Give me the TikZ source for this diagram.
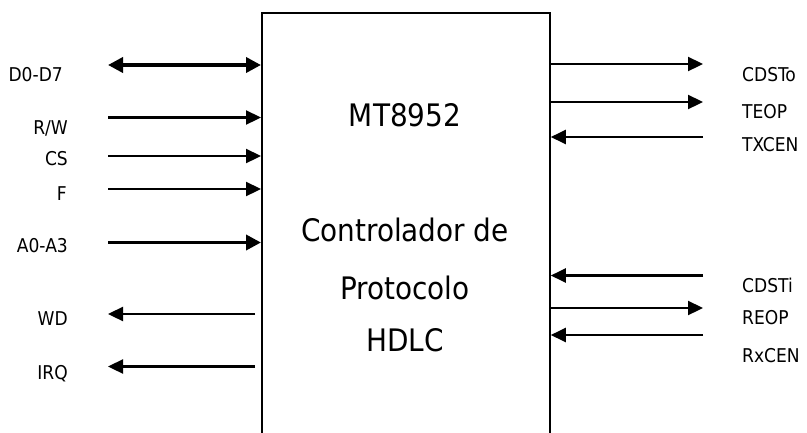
\documentclass[tikz,border=0pt]{standalone}
\usepackage{fontspec}
\setmainfont{DejaVu Sans Condensed}
\usetikzlibrary{arrows.meta, positioning}

\begin{document}
\begin{tikzpicture}[
  x=1pt, y=-1pt,
  chip/.style={draw, line width=1.8pt, minimum width=288pt, minimum height=440pt, inner sep=0},
  title/.style={font=\fontsize{31}{31}\selectfont, inner sep=0, anchor=base},
  sig/.style={font=\fontsize{19}{19}\selectfont, inner sep=0},
  sigl/.style={sig, anchor=base east},
  sigr/.style={sig, anchor=base west},
  wire/.style={line width=2.3pt, -{Triangle[length=15pt,width=14pt]}},
  bus/.style={line width=3.6pt, -{Triangle[length=15pt,width=15pt]}},
  bibus/.style={bus, {Triangle[length=15pt,width=15pt]}-{Triangle[length=15pt,width=15pt]}}
]
\useasboundingbox (0,0) rectangle (807,432);
\clip (0,0) rectangle (807,432);

% the controller
\node[chip, anchor=north west] (ctrl) at (261,12) {};
\node[title] (t1) at (405,126.5) {MT8952};
\node[title] (t2) at (405,241.5) {Controlador de};
\node[title] (t3) at (405,299) {Protocolo};
\node[title] (t4) at (405,351.5) {HDLC};

% processor side
\coordinate (d07) at (108,65);
\coordinate (rw)  at (108,117.5);
\coordinate (cs)  at (108,156);
\coordinate (f)   at (108,189);
\coordinate (a03) at (108,242.5);
\coordinate (wd)  at (108,314);
\coordinate (irq) at (108,366.5);

\draw[bibus] (d07) -- (d07 -| ctrl.west);
\draw[wire] (rw) -- (rw -| ctrl.west);
\draw[wire] (cs) -- (cs -| ctrl.west);
\draw[wire] (f) -- (f -| ctrl.west);
\draw[bus] (a03) -- (a03 -| ctrl.west);
\draw[wire] ([xshift=-6pt]wd -| ctrl.west) -- (wd);
\draw[wire] ([xshift=-6pt]irq -| ctrl.west) -- (irq);

\node[sigl] (ld07) at (63,81) {D0-D7};
\node[sigl] (lrw)  at (68,134) {R/W};
\node[sigl] (lcs)  at (68,165.5) {CS};
\node[sigl] (lf)   at (67,200.5) {F};
\node[sigl] (la03) at (68,252) {A0-A3};
\node[sigl] (lwd)  at (68,325.5) {WD};
\node[sigl] (lirq) at (68,379) {IRQ};

% line side
\coordinate (cdsto) at (703,64);
\coordinate (teop)  at (703,102);
\coordinate (txcen) at (703,137);
\coordinate (cdsti) at (703,275.5);
\coordinate (reop)  at (703,308);
\coordinate (rxcen) at (703,335);

\draw[wire] (cdsto -| ctrl.east) -- (cdsto);
\draw[wire] (teop -| ctrl.east) -- (teop);
\draw[wire] (txcen) -- (txcen -| ctrl.east);
\draw[wire] (cdsti) -- (cdsti -| ctrl.east);
\draw[wire] (reop -| ctrl.east) -- (reop);
\draw[wire] (rxcen) -- (rxcen -| ctrl.east);

\node[sigr] (lcdsto) at (742,81) {CDSTo};
\node[sigr] (lteop)  at (742,118) {TEOP};
\node[sigr] (ltxcen) at (742,151) {TXCEN};
\node[sigr] (lcdsti) at (742,292) {CDSTi};
\node[sigr] (lreop)  at (742,324) {REOP};
\node[sigr] (lrxcen) at (742,362) {RxCEN};
\end{tikzpicture}
\end{document}
